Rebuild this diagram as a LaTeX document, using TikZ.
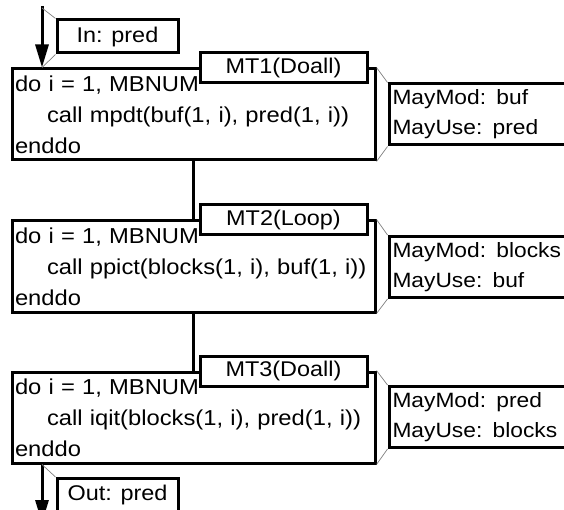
\documentclass[tikz,border=0pt]{standalone}
\usepackage{fontspec}
\setmainfont{Liberation Sans}[FakeStretch=1.1]
\usetikzlibrary{arrows.meta}
\tikzset{
  code/.style={draw, line width=3pt, fill=white, minimum width=363pt, minimum height=91pt,
    text width=357pt, inner xsep=3pt, inner ysep=0pt, align=left,
    font=\fontsize{21.6}{31}\selectfont},
  tag/.style={draw, line width=3pt, fill=white, minimum width=167pt, minimum height=30pt,
    inner sep=0pt, font=\fontsize{21.3}{26}\selectfont},
  info/.style={draw, line width=3pt, fill=white, minimum width=200pt, minimum height=61pt,
    text width=193pt, inner xsep=3.5pt, inner ysep=0pt, align=left,
    font=\fontsize{20.7}{30}\selectfont},
  port/.style={draw, line width=3pt, fill=white, minimum width=121pt, minimum height=33pt,
    inner sep=0pt, font=\fontsize{21.3}{26}\selectfont},
  flow/.style={line width=3pt},
  flowarrow/.style={line width=3pt, -{Triangle[length=23pt,width=13pt]}},
  lead/.style={draw=gray, line width=0.7pt},
}
\newcommand{\ind}{\hspace*{32pt}}
\begin{document}
\begin{tikzpicture}[x=1pt, y=-1pt]
  \clip (0,0) rectangle (564,510);

  % loop bodies
  \node[code] (b1) at (193.5,114.5) {do i = 1, MBNUM\\\ind call mpdt(buf(1, i), pred(1, i))\\enddo};
  \node[code] (b2) at (193.5,266.5) {do i = 1, MBNUM\\\ind call ppict(blocks(1, i), buf(1, i))\\enddo};
  \node[code] (b3) at (193.5,417.5) {do i = 1, MBNUM\\\ind call iqit(blocks(1, i), pred(1, i))\\enddo};

  % macro-task tags on the top edges
  \node[tag] (t1) at (283.5,68) {MT1(Doall)};
  \node[tag] (t2) at (283.5,219.5) {MT2(Loop)};
  \node[tag] (t3) at (283.5,371) {MT3(Doall)};

  % sequence links
  \draw[flow] (b1) -- (b2);
  \draw[flow] (b2) -- (b3);

  % access summaries
  \node[info] (m1) at (489,114.5) {MayMod: buf\\MayUse: pred};
  \node[info] (m2) at (489,267) {MayMod: blocks\\MayUse: buf};
  \node[info] (m3) at (489,417) {MayMod: pred\\MayUse: blocks};
  \foreach \i in {1,2,3} {
    \draw[lead] (b\i.north east) -- (m\i.north west);
    \draw[lead] (b\i.south east) -- (m\i.south west);
  }

  % input
  \coordinate (intop) at (42,6);
  \coordinate (inlead) at (42,8);
  \coordinate (intip) at (b1.north -| intop);
  \node[port] (inb) at (117.5,36.5) {In: pred};
  \draw[flowarrow] (intop) -- (intip);
  \draw[lead] (inlead) -- (inb.north west);
  \draw[lead] (inb.south west) -- (intip);

  % output
  \coordinate (outtop) at (b3.south -| intop);
  \coordinate (outend) at (42,523);
  \node[port] (outb) at (117.5,495) {Out: pred};
  \draw[flowarrow] (outtop) -- (outend);
  \draw[lead] (outtop) -- (outb.north west);
\end{tikzpicture}
\end{document}
